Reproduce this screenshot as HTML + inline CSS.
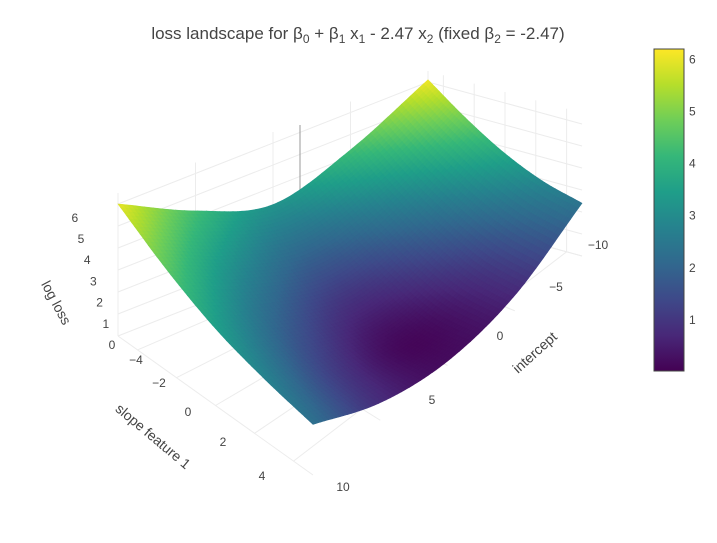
<!DOCTYPE html>
<html><head><meta charset="utf-8"><style>
body{margin:0;background:#fff;}
svg text{font-family:"Liberation Sans","DejaVu Sans",sans-serif;fill:#444;}
</style></head><body>
<svg id="chart" width="717" height="538" xmlns="http://www.w3.org/2000/svg">
<rect width="717" height="538" fill="#fff"/>
<text x="358" y="39" text-anchor="middle" font-size="17">loss landscape for β<tspan font-size="12" dy="4">0</tspan><tspan dy="-4"> + β</tspan><tspan font-size="12" dy="4">1</tspan><tspan dy="-4"> x</tspan><tspan font-size="12" dy="4">1</tspan><tspan dy="-4"> - 2.47 x</tspan><tspan font-size="12" dy="4">2</tspan><tspan dy="-4"> (fixed β</tspan><tspan font-size="12" dy="4">2</tspan><tspan dy="-4"> = -2.47)</tspan></text>
<g id="grid"></g>
<g id="surface"></g>
<g id="ticks"></g>
<text transform="translate(52,305) rotate(62)" text-anchor="middle" font-size="14">log loss</text>
<text transform="translate(150,440) rotate(40)" text-anchor="middle" font-size="14">slope feature 1</text>
<text transform="translate(538,356) rotate(-42)" text-anchor="middle" font-size="14">intercept</text>
<defs><linearGradient id="vir" x1="0" y1="1" x2="0" y2="0">
<stop offset="0" stop-color="#440154"/><stop offset="0.111" stop-color="#482878"/><stop offset="0.222" stop-color="#3e4989"/><stop offset="0.333" stop-color="#31688e"/><stop offset="0.444" stop-color="#26828e"/><stop offset="0.556" stop-color="#1f9e89"/><stop offset="0.667" stop-color="#35b779"/><stop offset="0.778" stop-color="#6ece58"/><stop offset="0.889" stop-color="#b5de2b"/><stop offset="1" stop-color="#fde725"/>
</linearGradient></defs>
<rect x="654" y="49" width="30" height="322" fill="url(#vir)" stroke="#444" stroke-width="1"/>
<g id="cbticks"></g>
</svg>
<script>
// data
const intercepts = [10, 5, 0, -5, -10];
const slopes = [-5, -2.5, 0, 2.5, 5];
const logLoss = [ // rows: slopes, cols: intercepts
  [6.0, 4.3, 3.2, 4.3, 6.1],
  [4.6, 2.9, 1.9, 2.9, 4.8],
  [3.5, 1.8, 0.8, 1.8, 3.7],
  [2.8, 1.1, 0.15, 1.0, 2.9],
  [2.3, 0.8, 0.2, 0.7, 2.4]
];
const zTicks = [0,1,2,3,4,5,6];
const slopeTicks = [-4,-2,0,2,4];
const interceptTicks = [10,5,0,-5,-10];
const cbTicks = [1,2,3,4,5,6];

const NS='http://www.w3.org/2000/svg';
const cmin=0.02, cmax=6.2;
const vir=["#440154","#482878","#3e4989","#31688e","#26828e","#1f9e89","#35b779","#6ece58","#b5de2b","#fde725"];
function hex(h){return [1,3,5].map(i=>parseInt(h.substr(i,2),16));}
const virRGB=vir.map(hex);
function color(z){let t=Math.max(0,Math.min(1,(z-cmin)/(cmax-cmin)))*(virRGB.length-1);let i=Math.min(Math.floor(t),virRGB.length-2);let f=t-i;const a=virRGB[i],b=virRGB[i+1];return 'rgb('+a.map((v,k)=>Math.round(v+(b[k]-v)*f)).join(',')+')';}
const LC=[118,336],BC=[313,475],RC=[582,256],TC=[428,214];
const bMax=Math.max(...intercepts), bMin=Math.min(...intercepts);
const sMin=Math.min(...slopes), sMax=Math.max(...slopes);
function proj(b,s,z){const u=(bMax-b)/(bMax-bMin), v=(s-sMin)/(sMax-sMin);
  const x=(1-u)*(1-v)*LC[0]+(1-u)*v*BC[0]+u*v*RC[0]+u*(1-v)*TC[0];
  const y=(1-u)*(1-v)*LC[1]+(1-u)*v*BC[1]+u*v*RC[1]+u*(1-v)*TC[1];
  return [x,y-z*22];}
function cr(p0,p1,p2,p3,t){return 0.5*((2*p1)+(-p0+p2)*t+(2*p0-5*p1+4*p2-p3)*t*t+(-p0+3*p1-3*p2+p3)*t*t*t);}
function rowVal(row,fj){const n=row.length;let j=Math.min(Math.floor(fj),n-2);const t=fj-j;
  const g=k=>k<0?2*row[0]-row[1]:(k>=n?2*row[n-1]-row[n-2]:row[k]);
  return cr(g(j-1),g(j),g(j+1),g(j+2),t);}
function zAt(b,s){
  const fi=(s-sMin)/(sMax-sMin)*(slopes.length-1), fj=(bMax-b)/(bMax-bMin)*(intercepts.length-1);
  const cols=logLoss.map(r=>rowVal(r,fj));
  return Math.max(0.02,rowVal(cols,fi));}
function line(g,p,q,c,name){const l=document.createElementNS(NS,'line');l.setAttribute('x1',p[0]);l.setAttribute('y1',p[1]);l.setAttribute('x2',q[0]);l.setAttribute('y2',q[1]);l.setAttribute('stroke',c);l.setAttribute('stroke-width',1);
  
  
  g.appendChild(l);}
const grid=document.getElementById('grid');
const zTop=6.5, gc='#ececec';
zTicks.forEach(z=>{line(grid,proj(bMax,sMin,z),proj(bMin,sMin,z),gc,'wall-gridline-z');line(grid,proj(bMin,sMin,z),proj(bMin,sMax,z),gc,'wall-gridline-z');});
interceptTicks.forEach(b=>{line(grid,proj(b,sMin,0),proj(b,sMin,zTop),gc,'wall-gridline-intercept');line(grid,proj(b,sMin,0),proj(b,sMax,0),gc,'floor-gridline-intercept');});
slopeTicks.forEach(s=>{line(grid,proj(bMin,s,0),proj(bMin,s,zTop),gc,'wall-gridline-slope');line(grid,proj(bMax,s,0),proj(bMin,s,0),gc,'floor-gridline-slope');});
line(grid,[300,125],[300,200],'#999','z-axis-line');
const surf=document.getElementById('surface');
const N=70, cells=[];
for(let i=0;i<N;i++)for(let j=0;j<N;j++){
  const s0=sMin+(sMax-sMin)*i/N,s1=sMin+(sMax-sMin)*(i+1)/N,b0=bMax-(bMax-bMin)*j/N,b1=bMax-(bMax-bMin)*(j+1)/N;
  const pts=[[b0,s0],[b1,s0],[b1,s1],[b0,s1]].map(([b,s])=>{const z=zAt(b,s);return {p:proj(b,s,z),z};});
  const zc=pts.reduce((a,o)=>a+o.z,0)/4;
  const fy=proj((b0+b1)/2,(s0+s1)/2,0)[1];
  cells.push({pts,zc,fy});}
cells.sort((a,b)=>a.fy-b.fy);
cells.forEach(c=>{const pg=document.createElementNS(NS,'polygon');pg.setAttribute('points',c.pts.map(o=>o.p[0].toFixed(1)+','+o.p[1].toFixed(1)).join(' '));const col=color(c.zc);pg.setAttribute('fill',col);pg.setAttribute('stroke',col);pg.setAttribute('stroke-width','0.6');
  
  
  surf.appendChild(pg);});
const tg=document.getElementById('ticks');
function txt(g,x,y,t,name,anchor,size){const e=document.createElementNS(NS,'text');e.setAttribute('x',x);e.setAttribute('y',y);e.setAttribute('text-anchor',anchor||'middle');e.setAttribute('font-size',size||12);e.textContent=t;
  
  
  g.appendChild(e);}
zTicks.forEach(z=>{txt(tg,112-6.2*z,349-21.2*z,String(z),'z-tick-label');});
const slopeLabelPos={'-4':[136,364],'-2':[159,387],'0':[188,416],'2':[223,446],'4':[262,480]};
slopeTicks.forEach(s=>{const p=slopeLabelPos[String(s)];txt(tg,p[0],p[1],s<0?'−'+Math.abs(s):String(s),'slope-tick-label');});
const intLabelPos={'10':[343,491],'5':[432,404],'0':[500,340],'-5':[556,291],'-10':[598,249]};
interceptTicks.forEach(b=>{const p=intLabelPos[String(b)];txt(tg,p[0],p[1],b<0?'−'+Math.abs(b):String(b),'intercept-tick-label');});
const cg=document.getElementById('cbticks');
cbTicks.forEach(v=>{const y=49+322*(1-(v-cmin)/(cmax-cmin));txt(cg,689,y+4,String(v),'colorbar-tick-label','start');});
</script>
</body></html>
